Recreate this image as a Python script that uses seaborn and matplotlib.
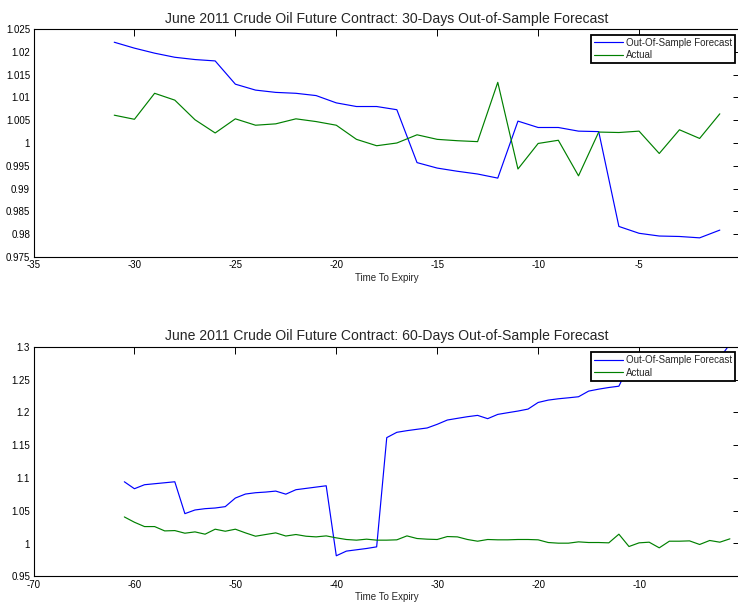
import matplotlib
matplotlib.use("Agg")
import matplotlib.pyplot as plt
from matplotlib.ticker import FuncFormatter, MultipleLocator
import pandas as pd
import seaborn as sns

# ---- 30-day out-of-sample forecast (days to expiry -31 .. -1) ----
days_30 = list(range(-31, 0))
forecast_30 = [1.0221, 1.0208, 1.0197, 1.0188, 1.0183, 1.0180, 1.0129, 1.0116,
               1.0111, 1.0109, 1.0104, 1.0088, 1.0080, 1.0080, 1.0073, 0.9957,
               0.9945, 0.9938, 0.9932, 0.9923, 1.0048, 1.0034, 1.0034, 1.0026,
               1.0025, 0.9817, 0.9802, 0.9796, 0.9795, 0.9792, 0.9809]
actual_30 = [1.0061, 1.0052, 1.0109, 1.0094, 1.0051, 1.0022, 1.0053, 1.0039,
             1.0042, 1.0053, 1.0047, 1.0039, 1.0008, 0.9994, 1.0000, 1.0018,
             1.0008, 1.0005, 1.0003, 1.0133, 0.9943, 0.9999, 1.0006, 0.9928,
             1.0024, 1.0023, 1.0026, 0.9977, 1.0029, 1.0010, 1.0064]

# ---- 60-day out-of-sample forecast (days to expiry -61 .. -1) ----
days_60 = list(range(-61, 0))
forecast_60 = [1.0941, 1.0835, 1.0896, 1.0911, 1.0926, 1.0941, 1.0455, 1.0511,
               1.0531, 1.0541, 1.0562, 1.0693, 1.0754, 1.0774, 1.0784, 1.0799,
               1.0752, 1.0820, 1.0840, 1.0860, 1.0880, 0.9813, 0.9884, 0.9904,
               0.9924, 0.9949, 1.1614, 1.1695, 1.1720, 1.1741, 1.1761, 1.1817,
               1.1882, 1.1908, 1.1933, 1.1953, 1.1903, 1.1968, 1.1994, 1.2019,
               1.2049, 1.2150, 1.2186, 1.2206, 1.2221, 1.2237, 1.2323, 1.2353,
               1.2378, 1.2398, 1.2715, 1.2730, 1.2745, 1.2760, 1.2770, 1.2785,
               1.2795, 1.2805, 1.2815, 1.2830, 1.3040]
actual_60 = [1.0405, 1.0324, 1.0258, 1.0258, 1.0192, 1.0197, 1.0157, 1.0177,
             1.0142, 1.0218, 1.0187, 1.0218, 1.0162, 1.0111, 1.0137, 1.0162,
             1.0114, 1.0137, 1.0111, 1.0101, 1.0116, 1.0086, 1.0061, 1.0051,
             1.0066, 1.0051, 1.0051, 1.0056, 1.0116, 1.0076, 1.0066, 1.0061,
             1.0106, 1.0101, 1.0061, 1.0035, 1.0061, 1.0056, 1.0056, 1.0061,
             1.0061, 1.0056, 1.0015, 1.0005, 1.0005, 1.0025, 1.0015, 1.0015,
             1.0010, 1.0142, 0.9954, 1.0010, 1.0020, 0.9934, 1.0035, 1.0035,
             1.0040, 0.9985, 1.0046, 1.0020, 1.0071]

series_labels = ["Out-Of-Sample Forecast", "Actual"]
series_colors = ["#0000ff", "#008000"]

sns.set_style("white")
plt.rcParams["font.family"] = ["Liberation Sans", "DejaVu Sans"]
plt.rcParams["axes.unicode_minus"] = False

W, H = 738, 603
fig = plt.figure(figsize=(W / 100, H / 100), dpi=100)
fig.patch.set_facecolor("white")

ax_top = fig.add_axes([33.5 / W, (H - 257) / H, 706.5 / W, 228 / H])
ax_bot = fig.add_axes([33.5 / W, (H - 576.3) / H, 706.5 / W, 229.6 / H])

fmt = FuncFormatter(lambda v, p: f"{round(v, 4):g}")


def draw_panel(ax, days, forecast, actual, title, xlim, xstep, ylim, ystep):
    df = pd.DataFrame({
        "day": days + days,
        "value": forecast + actual,
        "series": [series_labels[0]] * len(days) + [series_labels[1]] * len(days),
    })
    sns.lineplot(data=df, x="day", y="value", hue="series",
                 hue_order=series_labels, palette=series_colors,
                 linewidth=0.85, ax=ax)
    ax.set_xlim(*xlim)
    ax.set_ylim(*ylim)
    ax.xaxis.set_major_locator(MultipleLocator(xstep))
    ax.yaxis.set_major_locator(MultipleLocator(ystep))
    ax.yaxis.set_major_formatter(fmt)
    ax.tick_params(direction="in", top=True, right=True, length=5, width=0.7,
                   labelsize=7, pad=2.5, colors="black")
    for s in ax.spines.values():
        s.set_visible(True)
        s.set_color("black")
        s.set_linewidth(0.8)
    ax.set_title(title, fontsize=10.1, pad=4.5)
    ax.set_xlabel("Time To Expiry", fontsize=7, labelpad=1.5)
    ax.set_ylabel("")
    leg = ax.legend(loc="upper right", bbox_to_anchor=(0.9929, 0.975),
                    borderaxespad=0, fontsize=7, frameon=True, fancybox=False,
                    edgecolor="black", framealpha=1, handlelength=3.0,
                    handletextpad=0.3, labelspacing=0.25, borderpad=0.3)
    leg.get_frame().set_linewidth(1.3)
    leg.set_zorder(5)


draw_panel(ax_top, days_30, forecast_30, actual_30,
           "June 2011 Crude Oil Future Contract: 30-Days Out-of-Sample Forecast",
           (-35, 0), 5, (0.975, 1.025), 0.005)
draw_panel(ax_bot, days_60, forecast_60, actual_60,
           "June 2011 Crude Oil Future Contract: 60-Days Out-of-Sample Forecast",
           (-70, 0), 10, (0.95, 1.3), 0.05)

fig.savefig("out.png", dpi=100)
